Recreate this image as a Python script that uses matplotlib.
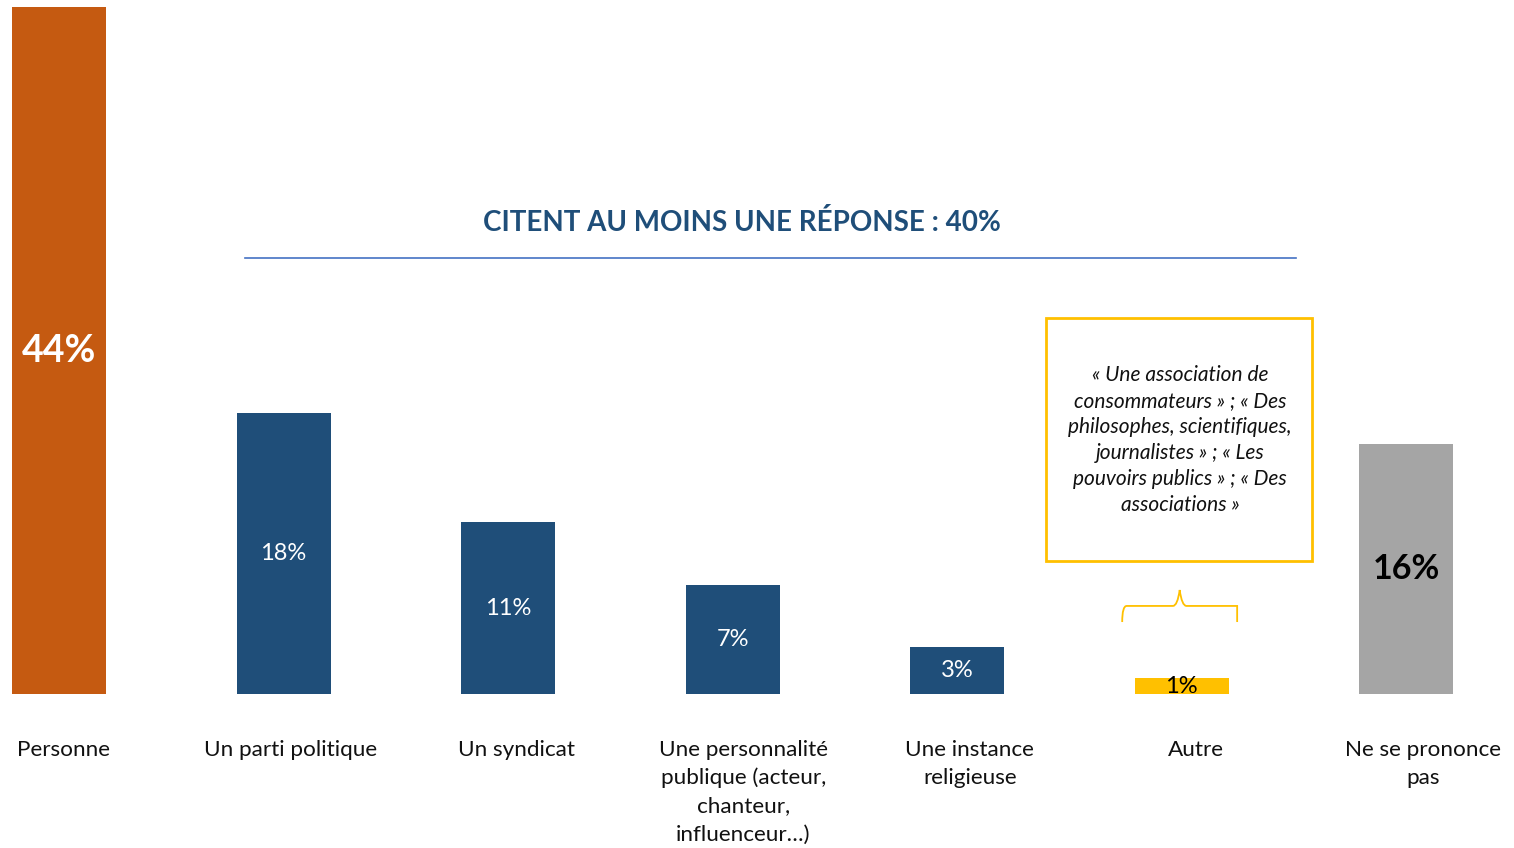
import numpy as np
import matplotlib
matplotlib.use('Agg')
from matplotlib import pyplot as plt
from matplotlib.path import Path
from matplotlib.patches import PathPatch, Rectangle

# données
categories = ['Personne', 'Un parti politique', 'Un syndicat',
              'Une personnalité\npublique (acteur,\nchanteur,\ninfluenceur…)',
              'Une instance\nreligieuse', 'Autre', 'Ne se prononce\npas']
valeurs = [44, 18, 11, 7, 3, 1, 16]
etiquettes = ['44%', '18%', '11%', '7%', '3%', '1%', '16%']
couleurs = ['#C55A11', '#1F4E79', '#1F4E79', '#1F4E79', '#1F4E79', '#FFC000', '#A5A5A5']
couleurs_txt = ['white', 'white', 'white', 'white', 'white', 'black', 'black']
titre = 'CITENT AU MOINS UNE RÉPONSE : 40%'
citations = ('« Une association de\nconsommateurs » ; « Des\nphilosophes, scientifiques,\n'
             'journalistes » ; « Les\npouvoirs publics » ; « Des\nassociations »')

plt.rcParams['font.family'] = ['Lato', 'DejaVu Sans']

fig = plt.figure(figsize=(15.14, 8.48), dpi=100)
ax = fig.add_axes([0, 154/848, 1, 687/848])
x = np.arange(len(valeurs))
ax.bar(x, valeurs, width=0.419, color=couleurs)
ax.set_xlim(-0.263, 6.48)
ax.set_ylim(0, 44)
ax.axis('off')

# étiquettes de valeur
for i, v in enumerate(valeurs):
    if i == 0:
        fs, fw = 27, 'bold'
    elif i == 6:
        fs, fw = 24.5, 'bold'
    else:
        fs, fw = 17, 'normal'
    ax.text(i, v/2, etiquettes[i], ha='center', va='center', color=couleurs_txt[i],
            fontsize=fs, fontweight=fw)

# catégories
for i, c in enumerate(categories):
    ax.text(i*1.009 + 0.02, -2.92, c, ha='center', va='top', fontsize=16.2,
            linespacing=1.5, color='#111111')

# titre + ligne
ax.text(3.04, 30.2, titre, ha='center', va='center', fontsize=20, fontweight='bold',
        color='#1F4E79')
ax.plot([0.828, 5.51], [27.92, 27.92], color='#4472C4', lw=1.2)

# encadré
ax.add_patch(Rectangle((4.396, 8.52), 1.185, 15.56, fill=False, edgecolor='#FFC000', lw=2))
ax.text(4.993, 16.25, citations, ha='center', va='center', fontsize=15, style='italic',
        linespacing=1.37, color='#111111')

# accolade
x0, x1, xm = 4.735, 5.247, 4.991
yb, ym, yt = 4.61, 5.64, 6.66
verts = [(x0, yb), (x0, ym), (x0 + 0.02, ym), (x0 + 0.03, ym),
         (xm - 0.03, ym), (xm - 0.01, ym), (xm, yt),
         (xm + 0.01, ym), (xm + 0.03, ym),
         (x1 - 0.03, ym), (x1 - 0.02, ym), (x1, ym), (x1, yb)]
codes = [Path.MOVETO, Path.CURVE3, Path.CURVE3, Path.LINETO,
         Path.LINETO, Path.CURVE3, Path.CURVE3,
         Path.CURVE3, Path.CURVE3,
         Path.LINETO, Path.CURVE3, Path.CURVE3, Path.LINETO]
ax.add_patch(PathPatch(Path(verts, codes), fill=False, edgecolor='#FFC000', lw=1.3))

plt.savefig('out.png', dpi=100)
